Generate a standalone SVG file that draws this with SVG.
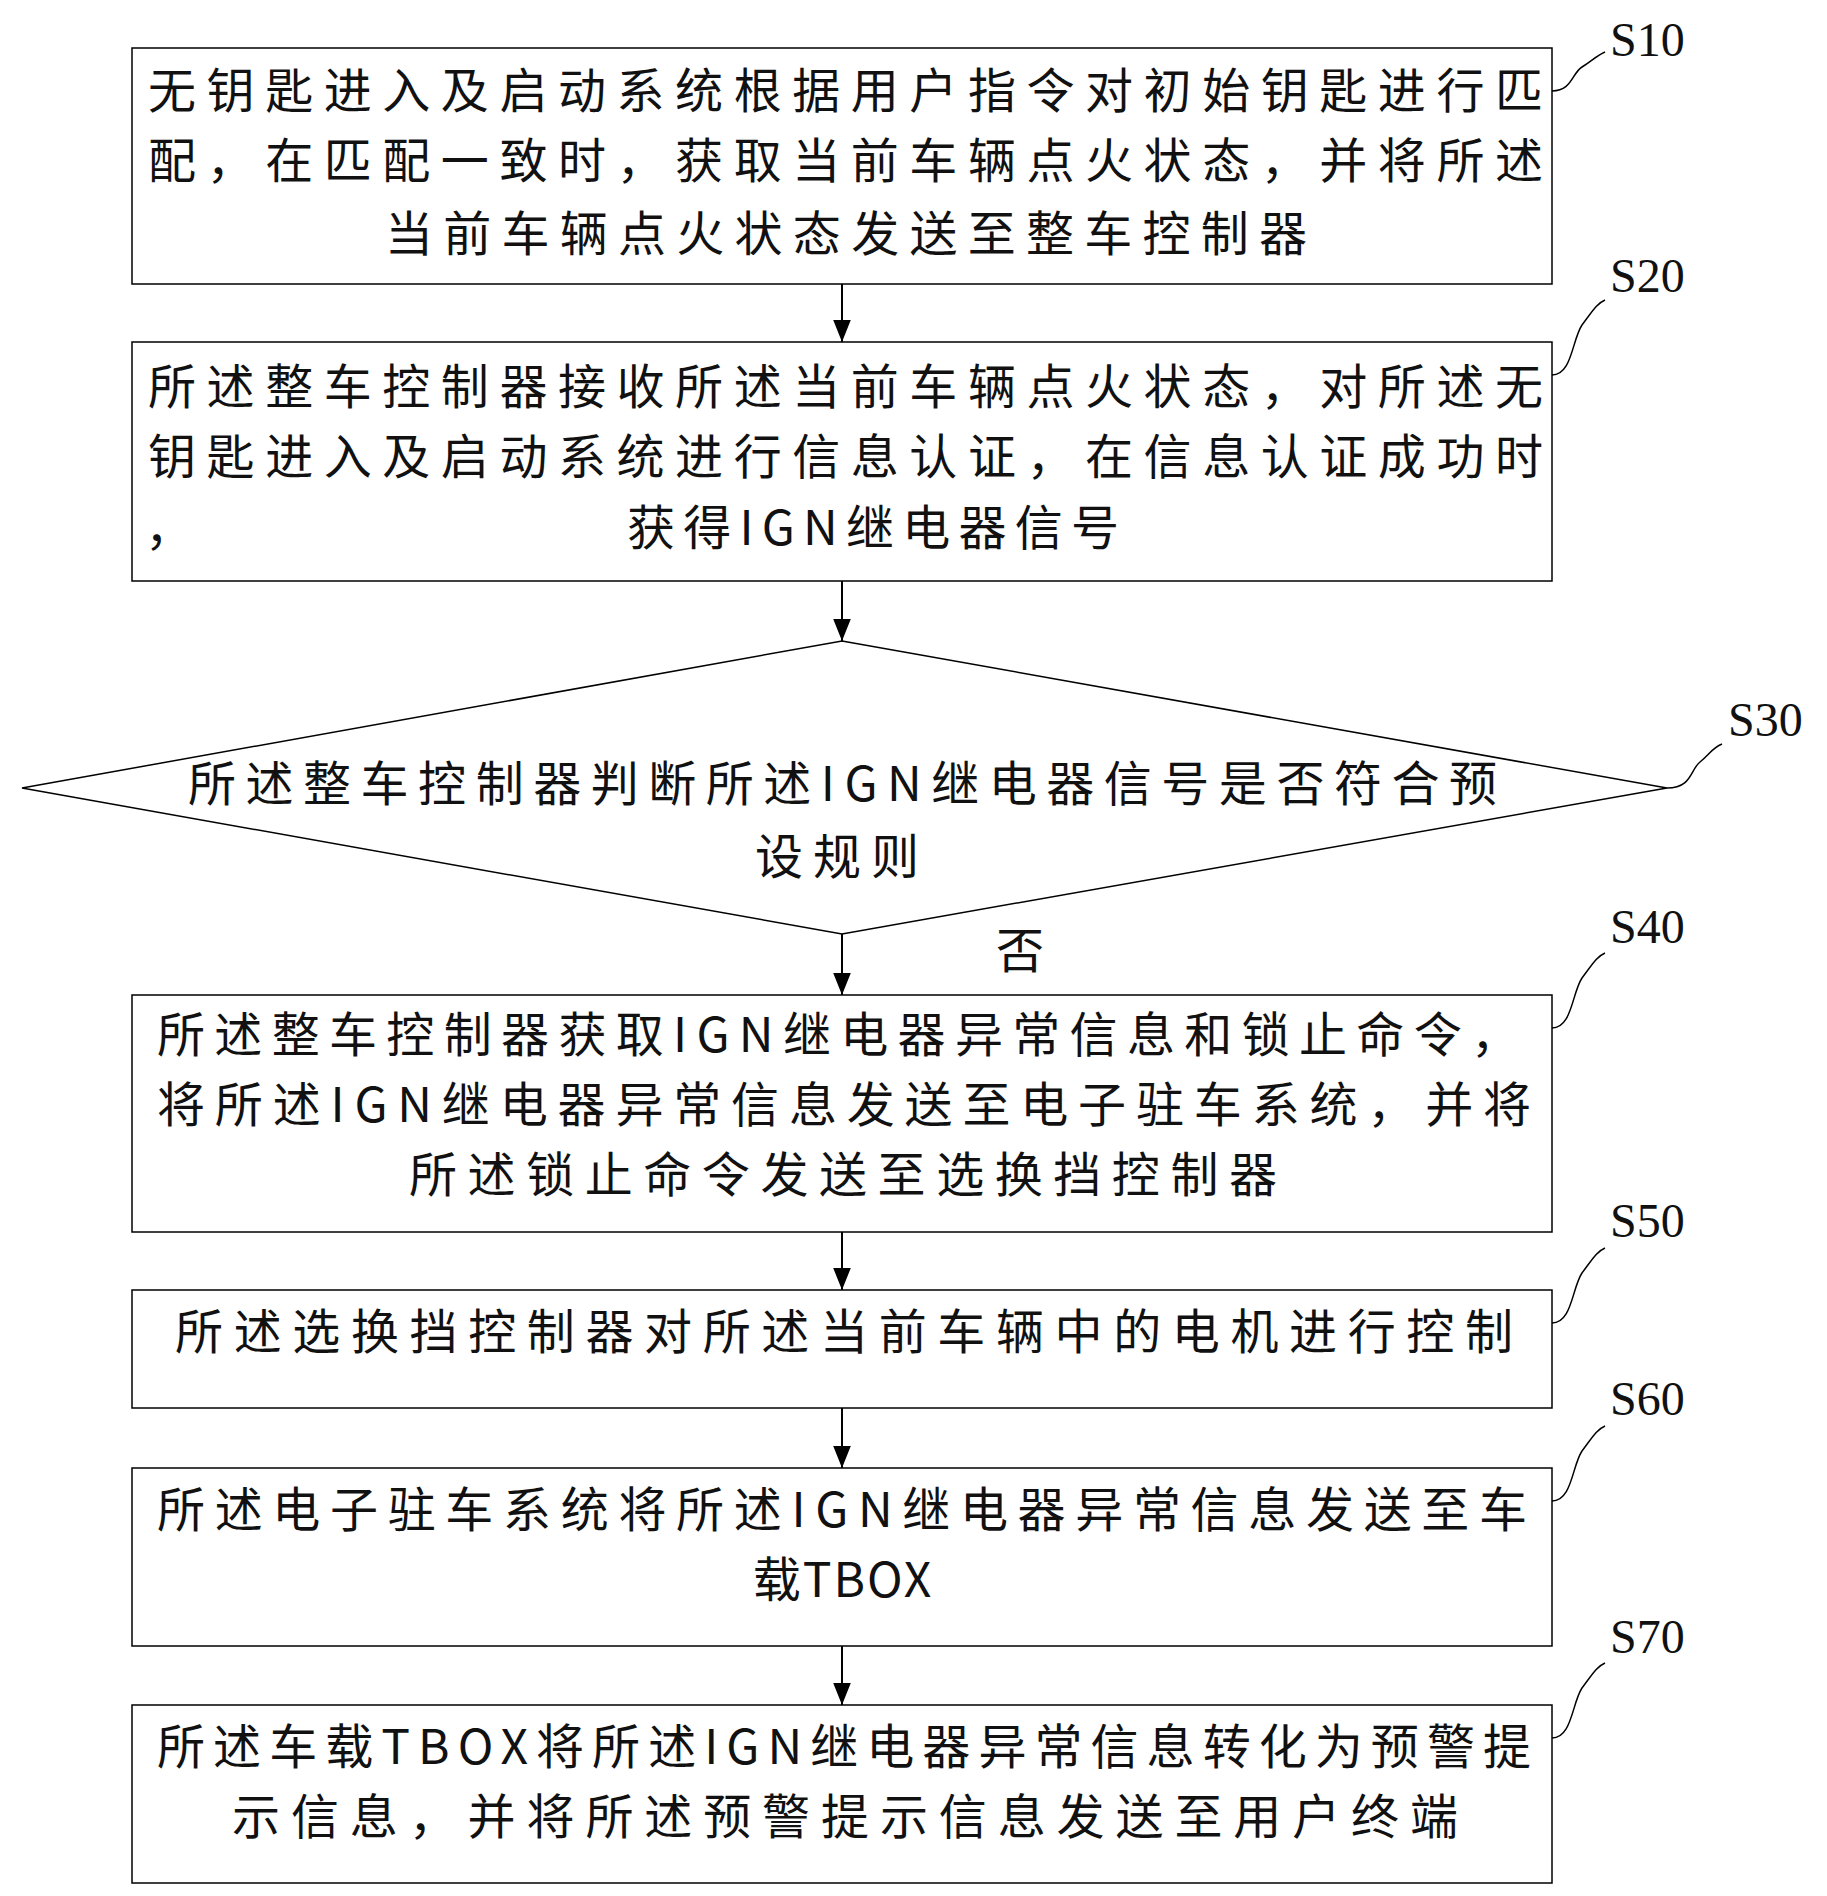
<svg xmlns="http://www.w3.org/2000/svg" width="1827" height="1896" viewBox="0 0 1827 1896">
<defs>
<marker id="a" viewBox="0 0 20 20" refX="20" refY="10" markerWidth="22" markerHeight="22" markerUnits="userSpaceOnUse" orient="auto"><path d="M0,2 L20,10 L0,18 z" fill="#000"/></marker>
<style>
.b{fill:#fff;stroke:#000;stroke-width:1.5}
.t{font-family:"Noto Sans CJK SC","Liberation Sans",sans-serif;font-size:48px;fill:#111}
.l{font-family:"Liberation Serif",serif;font-size:48px;fill:#111}
.w{fill:none;stroke:#000;stroke-width:1.5}
.c{stroke:#000;stroke-width:2;fill:none}
</style>
</defs>
<rect width="1827" height="1896" fill="#fff"/>
<g id="connectors">
<line class="c" x1="842" y1="284" x2="842" y2="342" marker-end="url(#a)"/>
<line class="c" x1="842" y1="581" x2="842" y2="641" marker-end="url(#a)"/>
<line class="c" x1="842" y1="934" x2="842" y2="995" marker-end="url(#a)"/>
<line class="c" x1="842" y1="1232" x2="842" y2="1290" marker-end="url(#a)"/>
<line class="c" x1="842" y1="1408" x2="842" y2="1468" marker-end="url(#a)"/>
<line class="c" x1="842" y1="1646" x2="842" y2="1705" marker-end="url(#a)"/>
<text class="t" x="1020" y="968" text-anchor="middle">否</text>
</g>
<g id="S10">
<rect class="b" x="132" y="48" width="1420" height="236"/>
<text class="t" x="148" y="108" textLength="1395" lengthAdjust="spacing">无钥匙进入及启动系统根据用户指令对初始钥匙进行匹</text>
<text class="t" x="148" y="178" textLength="1395" lengthAdjust="spacing">配，在匹配一致时，获取当前车辆点火状态，并将所述</text>
<text class="t" x="385" y="251" textLength="922" lengthAdjust="spacing">当前车辆点火状态发送至整车控制器</text>
<path class="w" d="M1552,91 C1572,91 1572,73 1582,67 C1592,61 1596,56 1605,52"/>
<text class="l" x="1610" y="56">S10</text>
</g>
<g id="S20">
<rect class="b" x="132" y="342" width="1420" height="239"/>
<text class="t" x="148" y="404" textLength="1395" lengthAdjust="spacing">所述整车控制器接收所述当前车辆点火状态，对所述无</text>
<text class="t" x="148" y="474" textLength="1395" lengthAdjust="spacing">钥匙进入及启动系统进行信息认证，在信息认证成功时</text>
<text class="t" x="145" y="545">，</text>
<text class="t" x="627" y="545" textLength="492" lengthAdjust="spacing">获得IGN继电器信号</text>
<path class="w" d="M1552,375 C1572,375 1572,340 1582,325 C1592,312 1596,304 1605,300"/>
<text class="l" x="1610" y="292">S20</text>
</g>
<g id="S30">
<polygon class="b" points="842,641 1667,788 842,934 22,788"/>
<text class="t" x="188" y="801" textLength="1309" lengthAdjust="spacing">所述整车控制器判断所述IGN继电器信号是否符合预</text>
<text class="t" x="842" y="874" text-anchor="middle" letter-spacing="10">设规则</text>
<path class="w" d="M1667,788 C1692,788 1690,770 1700,762 C1710,754 1712,748 1722,744"/>
<text class="l" x="1728" y="736">S30</text>
</g>
<g id="S40">
<rect class="b" x="132" y="995" width="1420" height="237"/>
<text class="t" x="157" y="1052" textLength="1362" lengthAdjust="spacing">所述整车控制器获取IGN继电器异常信息和锁止命令，</text>
<text class="t" x="157" y="1122" textLength="1374" lengthAdjust="spacing">将所述IGN继电器异常信息发送至电子驻车系统，并将</text>
<text class="t" x="409" y="1192" textLength="868" lengthAdjust="spacing">所述锁止命令发送至选换挡控制器</text>
<path class="w" d="M1552,1028 C1572,1028 1572,993 1582,978 C1592,965 1596,957 1605,953"/>
<text class="l" x="1610" y="943">S40</text>
</g>
<g id="S50">
<rect class="b" x="132" y="1290" width="1420" height="118"/>
<text class="t" x="175" y="1349" textLength="1338" lengthAdjust="spacing">所述选换挡控制器对所述当前车辆中的电机进行控制</text>
<path class="w" d="M1552,1323 C1572,1323 1572,1288 1582,1273 C1592,1260 1596,1252 1605,1248"/>
<text class="l" x="1610" y="1237">S50</text>
</g>
<g id="S60">
<rect class="b" x="132" y="1468" width="1420" height="178"/>
<text class="t" x="157" y="1527" textLength="1370" lengthAdjust="spacing">所述电子驻车系统将所述IGN继电器异常信息发送至车</text>
<text class="t" x="843" y="1597" text-anchor="middle" letter-spacing="2">载TBOX</text>
<path class="w" d="M1552,1501 C1572,1501 1572,1466 1582,1451 C1592,1438 1596,1430 1605,1426"/>
<text class="l" x="1610" y="1415">S60</text>
</g>
<g id="S70">
<rect class="b" x="132" y="1705" width="1420" height="178"/>
<text class="t" x="157" y="1764" textLength="1374" lengthAdjust="spacing">所述车载TBOX将所述IGN继电器异常信息转化为预警提</text>
<text class="t" x="232" y="1834" textLength="1226" lengthAdjust="spacing">示信息，并将所述预警提示信息发送至用户终端</text>
<path class="w" d="M1552,1738 C1572,1738 1572,1703 1582,1688 C1592,1675 1596,1667 1605,1663"/>
<text class="l" x="1610" y="1653">S70</text>
</g>
</svg>
